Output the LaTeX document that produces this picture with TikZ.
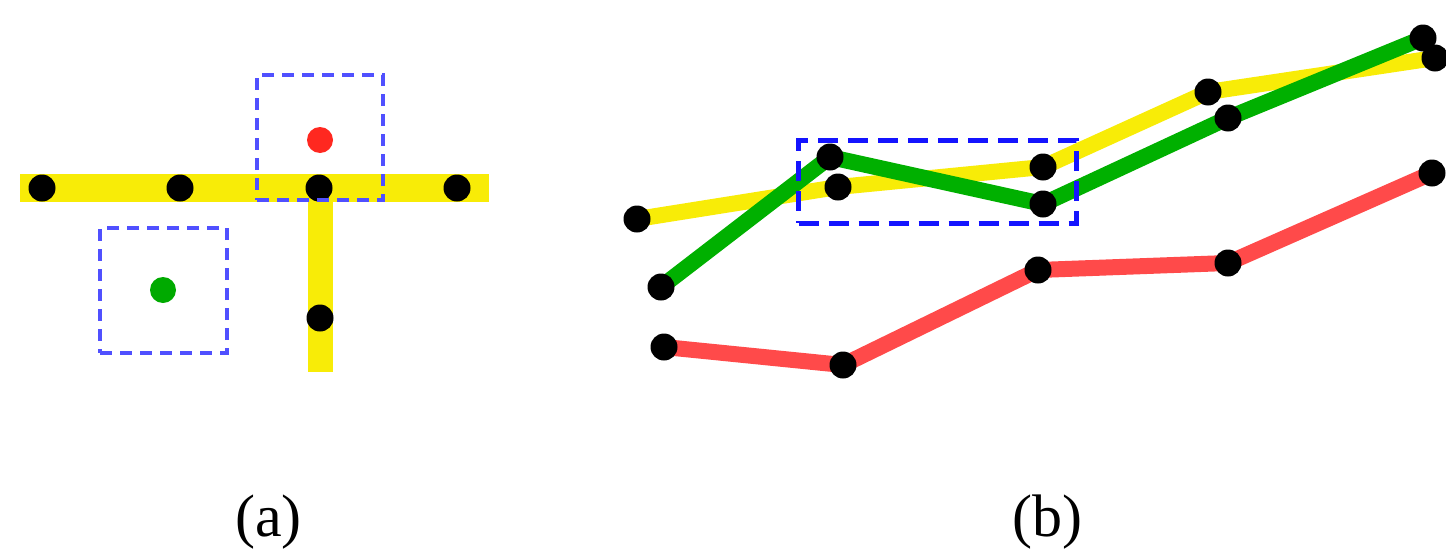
\documentclass[tikz,border=0pt]{standalone}
\usepackage{fontspec}
\setmainfont{Liberation Serif}
\begin{document}
\begin{tikzpicture}[x=1pt,y=-1pt,
  ybar/.style={draw=yellow!97!black, line width=28pt},
  tline/.style={line width=16pt, line join=round},
  dotb/.style={circle, fill=black, inner sep=0pt, minimum size=27pt},
  dotc/.style={circle, inner sep=0pt, minimum size=26pt},
  boxa/.style={draw={rgb,255:red,80;green,80;blue,255}, line width=4.5pt, dash pattern=on 12pt off 8pt},
  boxb/.style={draw={rgb,255:red,20;green,20;blue,255}, line width=5pt, dash pattern=on 20pt off 10pt},
  lab/.style={font=\fontsize{60}{60}\selectfont, anchor=base, inner sep=0pt}]
\useasboundingbox (0,0) rectangle (1446,549);
% ---------- panel (a) ----------
\coordinate (hl) at (20,188);
\coordinate (hr) at (489,188);
\coordinate (vt) at (320,188);
\coordinate (vb) at (320,372);
\draw[ybar] (hl) -- (hr);
\draw[ybar, line width=25pt] (vt) -- (vb);
\node[dotb] (a1) at (42,188) {};
\node[dotb] (a2) at (180,188) {};
\node[dotb] (a3) at (319,188) {};
\node[dotb] (a4) at (457,188) {};
\node[dotb] (a5) at (320,318) {};
\node[dotc, fill={rgb,255:red,255;green,40;blue,32}] (ar) at (320,140) {};
\node[dotc, fill={rgb,255:red,0;green,170;blue,0}] (ag) at (163,290) {};
\node[boxa, minimum width=126pt, minimum height=125pt, inner sep=0pt] (ba1) at (320,137.5) {};
\node[boxa, minimum width=127pt, minimum height=125pt, inner sep=0pt] (ba2) at (163.5,290.5) {};
% ---------- panel (b) ----------
\coordinate (y1) at (637,219);
\coordinate (y2) at (838,187);
\coordinate (y3) at (1043,167);
\coordinate (y4) at (1208,92);
\coordinate (y5) at (1435,58);
\coordinate (g1) at (661,287);
\coordinate (g2) at (830,157);
\coordinate (g3) at (1043,204);
\coordinate (g4) at (1228,118);
\coordinate (g5) at (1423,38);
\coordinate (r1) at (664,347);
\coordinate (r2) at (843,365);
\coordinate (r3) at (1038,270);
\coordinate (r4) at (1228,263);
\coordinate (r5) at (1432,173);
\draw[tline, draw=yellow!97!black] (y1) -- (y2) -- (y3) -- (y4) -- (y5);
\draw[tline, draw={rgb,255:red,0;green,176;blue,0}] (g1) -- (g2) -- (g3) -- (g4) -- (g5);
\draw[tline, draw={rgb,255:red,255;green,74;blue,74}] (r1) -- (r2) -- (r3) -- (r4) -- (r5);
\foreach \p in {y1,y2,y3,y4,y5,g1,g2,g3,g4,g5,r1,r2,r3,r4,r5}
  \node[dotb] (d\p) at (\p) {};
\node[boxb, minimum width=278pt, minimum height=83pt, inner sep=0pt] (bb) at (937.5,181.5) {};
% ---------- labels ----------
\node[lab] (la) at (268.5,536) {(a)};
\node[lab] (lb) at (1047,536) {(b)};
\end{tikzpicture}
\end{document}
